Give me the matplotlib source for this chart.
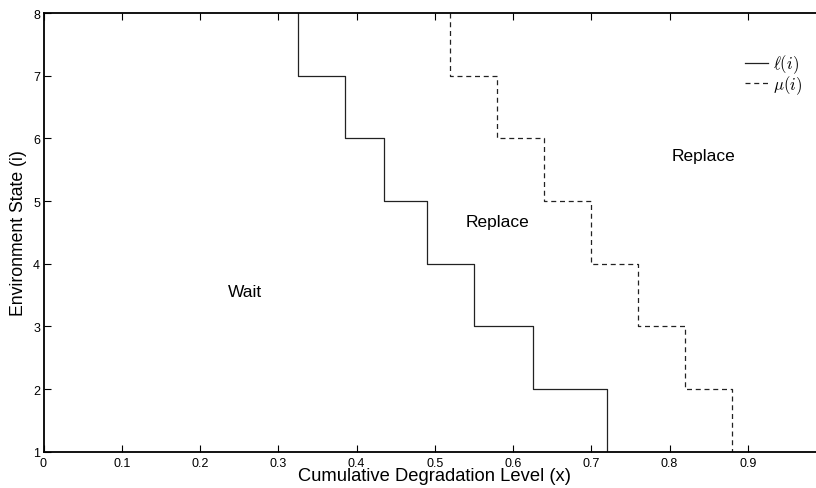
#!/usr/bin/env python
# coding: utf-8

import numpy as np
import matplotlib
matplotlib.use('Agg')
import matplotlib.pyplot as plt

plt.rcParams['font.family'] = ['Liberation Sans', 'DejaVu Sans']
plt.rcParams['mathtext.fontset'] = 'cm'

# 环境状态 i 及对应阈值
states = np.array([7, 6, 5, 4, 3, 2, 1])
ell_vals = [0.325, 0.385, 0.435, 0.49, 0.55, 0.625, 0.72]   # ℓ(i)
mu_vals = [0.52, 0.58, 0.64, 0.70, 0.76, 0.82, 0.88]        # μ(i)

x_ticks = [0, 0.1, 0.2, 0.3, 0.4, 0.5, 0.6, 0.7, 0.8, 0.9]
x_tick_labels = ['0', '0.1', '0.2', '0.3', '0.4', '0.5', '0.6', '0.7', '0.8', '0.9']
y_ticks = [1, 2, 3, 4, 5, 6, 7, 8]

region_labels = ['Wait', 'Replace', 'Replace']
region_x = [0.258, 0.58, 0.844]
region_y = [3.55, 4.68, 5.72]


def staircase(thresholds):
    """阈值 -> 阶梯线的点 (每个状态一条竖线)"""
    xs = np.repeat(thresholds, 2)
    ys = np.column_stack([states + 1, states]).ravel()
    return xs, ys


fig = plt.figure(figsize=(8.16, 4.89), dpi=100)
ax = fig.add_axes([43.5 / 816, 1 - 452.7 / 489, 782.5 / 816, (452.7 - 14) / 489])

xl, yl = staircase(ell_vals)
xm, ym = staircase(mu_vals)
ax.plot(xl, yl, color='#222222', lw=0.9, label=r'$\ell(i)$')
ax.plot(xm, ym, color='#222222', lw=0.9, ls=(0, (4, 3)), label=r'$\mu(i)$')

for txt, tx, ty in zip(region_labels, region_x, region_y):
    ax.text(tx, ty, txt, ha='center', va='center', fontsize=12.5)

ax.set_xlim(0, 1)
ax.set_ylim(1, 8)
ax.set_xticks(x_ticks)
ax.set_xticklabels(x_tick_labels)
ax.set_yticks(y_ticks)
ax.tick_params(direction='in', length=5, width=0.8, labelsize=9,
               top=True, right=True)
ax.tick_params(axis='x', pad=3.5)
ax.tick_params(axis='y', pad=2.5)
for side in ['left', 'bottom', 'top']:
    ax.spines[side].set_linewidth(1.3)
ax.spines['right'].set_visible(False)

ax.set_xlabel('Cumulative Degradation Level (x)', fontsize=13.2, labelpad=-1)
ax.set_ylabel('Environment State (i)', fontsize=12.7, labelpad=4)

ax.legend(loc='upper right', bbox_to_anchor=(0.969, 0.91), frameon=False,
          fontsize=12, handlelength=1.4, handletextpad=0.25, labelspacing=-0.12,
          borderaxespad=0, borderpad=0)

fig.savefig('out.png', dpi=100)
